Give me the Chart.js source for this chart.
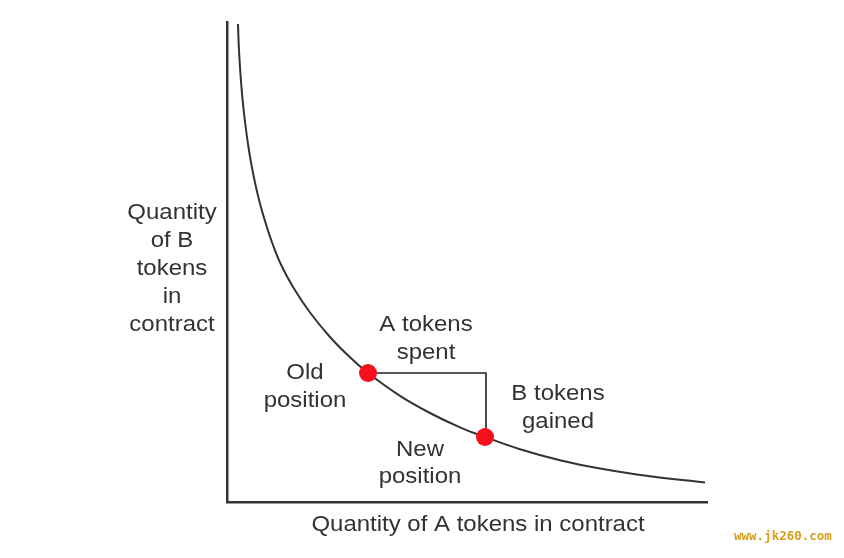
<!DOCTYPE html>
<html>
<head>
<meta charset="utf-8">
<script src="https://cdn.jsdelivr.net/npm/chart.js@4.4.1/dist/chart.umd.min.js"></script>
<style>
  html, body { margin: 0; padding: 0; background: #fff; }
  #wrap { width: 844px; height: 558px; position: relative; }
</style>
</head>
<body>
<div id="wrap"><canvas id="curveChart" width="844" height="558"></canvas></div>
<script>
// curve (A tokens, B tokens), denser where it bends
const curveA = [1.10, 1.17, 1.28, 1.42, 1.60, 1.83, 2.10, 2.43, 2.83, 3.31, 3.89, 4.56, 5.37,
                6.60, 8.30, 10.30, 12.30, 14.10, 17.30, 20.30, 23.30, 25.80, 29.30, 33.30, 37.30, 42.30, 47.80];
const curveB = [47.80, 45.80, 43.80, 41.80, 39.80, 37.80, 35.80, 33.80, 31.80, 29.80, 27.80, 25.80, 23.80,
                21.50, 18.95, 16.50, 14.47, 12.90, 10.62, 8.90, 7.46, 6.50, 5.28, 4.18, 3.34, 2.57, 1.95];

// old and new position on the curve
const positionA = [14.1, 25.8];
const positionB = [12.9, 6.5];

// the swap: spend A along the top, gain B down the side
const stepA = [14.1, 25.9, 25.9];
const stepB = [12.9, 12.9, 6.5];

const axisMax = 48;
const xTitle = 'Quantity of A tokens in contract';
const yTitle = ['Quantity', 'of B', 'tokens', 'in', 'contract'];

// text notes, anchored in data units
const notes = [
    { lines: ['A tokens', 'spent'], a: 19.9, b: 16.3 },
    { lines: ['Old', 'position'], a: 7.8, b: 11.5 },
    { lines: ['B tokens', 'gained'], a: 33.1, b: 9.4 },
    { lines: ['New', 'position'], a: 19.3, b: 3.85 }
];

const toPoints = (xs, ys) => xs.map((x, i) => ({ x: x, y: ys[i] }));

const textColor = '#333';
const textFont = '22px "Liberation Sans", Arial, sans-serif';
const stretch = 1.09;   // the text in the original is a bit wide

function drawLines(ctx, lines, cx, cy, lineH) {
    const top = cy - (lines.length - 1) * lineH / 2;
    lines.forEach((t, i) => {
        ctx.save();
        ctx.translate(cx, top + i * lineH);
        ctx.scale(stretch, 1);
        ctx.fillText(t, 0, 0);
        ctx.restore();
    });
}

const textPlugin = {
    id: 'notes',
    afterDraw: function(chart) {
        const ctx = chart.ctx;
        const xs = chart.scales.x;
        const ys = chart.scales.y;
        const area = chart.chartArea;
        ctx.save();
        ctx.fillStyle = textColor;
        ctx.font = textFont;
        ctx.textAlign = 'center';
        ctx.textBaseline = 'middle';

        notes.forEach(n => {
            drawLines(ctx, n.lines, xs.getPixelForValue(n.a), ys.getPixelForValue(n.b), 27.5);
        });

        // axis titles
        drawLines(ctx, [xTitle], (area.left + area.right) / 2 + 11, area.bottom + 23, 28);
        drawLines(ctx, yTitle, area.left - 55, (area.top + area.bottom) / 2 + 7, 28);

        // watermark
        ctx.font = 'bold 12.5px "DejaVu Sans Mono", monospace';
        ctx.fillStyle = '#d89e1a';
        ctx.textAlign = 'left';
        ctx.fillText('www.jk260.com', 734, 537);
        ctx.restore();
    }
};

const ctx = document.getElementById('curveChart').getContext('2d');
new Chart(ctx, {
    type: 'scatter',
    data: {
        datasets: [
            {
                label: 'step',
                data: toPoints(stepA, stepB),
                showLine: true,
                borderColor: '#222',
                borderWidth: 1.6,
                pointRadius: 0,
                tension: 0,
                order: 3
            },
            {
                label: 'curve',
                data: toPoints(curveA, curveB),
                showLine: true,
                borderColor: '#333',
                borderWidth: 2,
                pointRadius: 0,
                tension: 0.4,
                order: 2
            },
            {
                label: 'positions',
                data: toPoints(positionA, positionB),
                showLine: false,
                pointRadius: 9,
                pointBackgroundColor: '#f5101e',
                pointBorderWidth: 0,
                order: 1
            }
        ]
    },
    options: {
        responsive: false,
        animation: false,
        layout: {
            padding: { left: 227, right: 137, top: 22, bottom: 56 }
        },
        plugins: {
            legend: { display: false },
            tooltip: { enabled: false }
        },
        scales: {
            x: {
                type: 'linear',
                min: 0,
                max: axisMax,
                ticks: { display: false },
                grid: { display: false, drawTicks: false },
                border: { display: true, color: '#333', width: 2.5 }
            },
            y: {
                type: 'linear',
                min: 0,
                max: axisMax,
                ticks: { display: false },
                grid: { display: false, drawTicks: false },
                border: { display: true, color: '#333', width: 2.5 }
            }
        }
    },
    plugins: [textPlugin]
});
</script>
</body>
</html>
